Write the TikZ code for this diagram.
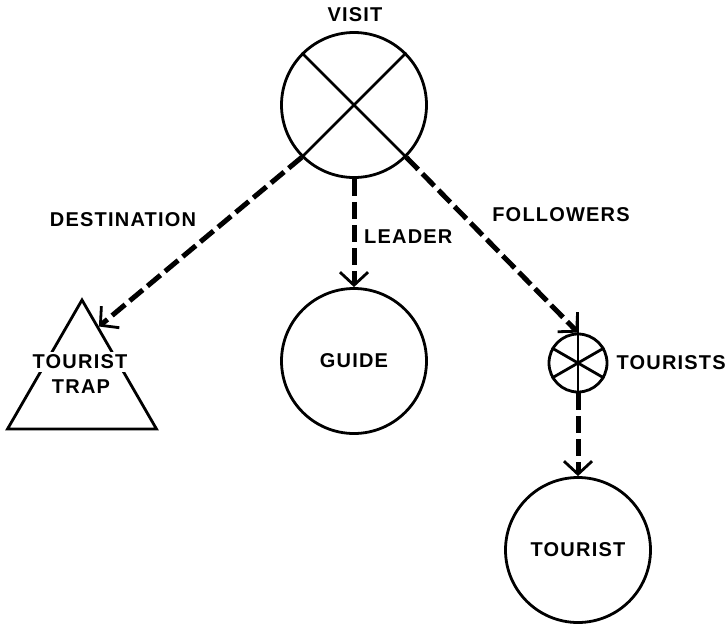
\documentclass[tikz,border=0pt]{standalone}
\usepackage{fontspec}
\usetikzlibrary{arrows.meta,shapes.geometric,calc}
\newfontfamily\lblfont[LetterSpace=6]{Liberation Sans}
\begin{document}
\begin{tikzpicture}[x=1pt,y=-1pt,
  lbl/.style={font=\lblfont\bfseries\fontsize{20}{22}\selectfont, inner sep=0pt},
  entity/.style={circle, draw, line width=2.8pt, minimum size=145pt, inner sep=0pt,
    font=\lblfont\bfseries\fontsize{20}{22}\selectfont},
  stroke/.style={line width=2.8pt},
  rel/.style={line width=5pt, dash pattern=on 17pt off 6pt,
    -{Straight Barb[length=13pt,width=28pt,line width=2.8pt]}}]
  \fill[white] (0,0) rectangle (726,624);
  \useasboundingbox (0,0) rectangle (726,624);

  % the visit concept: a circle crossed by an X
  \node[entity] (visit) at (354,105) {};
  \node[lbl] (visitlbl) at (355,15) {VISIT};
  \draw[stroke] (visit.45) -- (visit.225) (visit.135) -- (visit.-45);

  % destination: triangle with its two-line caption
  \node[draw, regular polygon, regular polygon sides=3, minimum size=172pt,
        line width=2.8pt, inner sep=0pt] (trap) at (82,386) {};
  \node[lbl, fill=white, inner xsep=3pt, inner ysep=3pt] (trapa) at (80,362) {TOURIST};
  \node[lbl] (trapb) at (81,387) {TRAP};
  \coordinate (trapin) at ($(trap.corner 1)!0.22!(trap.corner 3)$);

  % leader
  \node[entity] (guide) at (354,361) {GUIDE};

  % followers: the set symbol and its member
  \node[circle, draw, line width=2.8pt, minimum size=58pt, inner sep=0pt] (tourists) at (578,363) {};
  \draw[stroke] (tourists.30) -- (tourists.210) (tourists.150) -- (tourists.330);
  \coordinate (stem) at ($(tourists.north)+(0,-17)$);
  \draw[stroke] (stem) -- (tourists.south);
  \node[lbl, anchor=west] (tourislbl) at ($(tourists.east)+(8,0)$) {TOURISTS};
  \node[entity] (tourist) at (578,550) {TOURIST};

  % relations
  \draw[rel] (visit.225) -- (trapin);
  \draw[rel] (visit.south) -- (guide.north);
  \draw[rel] (visit.-45) -- (tourists.north);
  \draw[rel] (tourists.south) -- (tourist.north);

  % relation labels
  \node[lbl] (destlbl) at (123,220) {DESTINATION};
  \node[lbl, anchor=west] (leadlbl) at (364,237) {LEADER};
  \node[lbl] (follbl) at (561,215) {FOLLOWERS};
\end{tikzpicture}
\end{document}
